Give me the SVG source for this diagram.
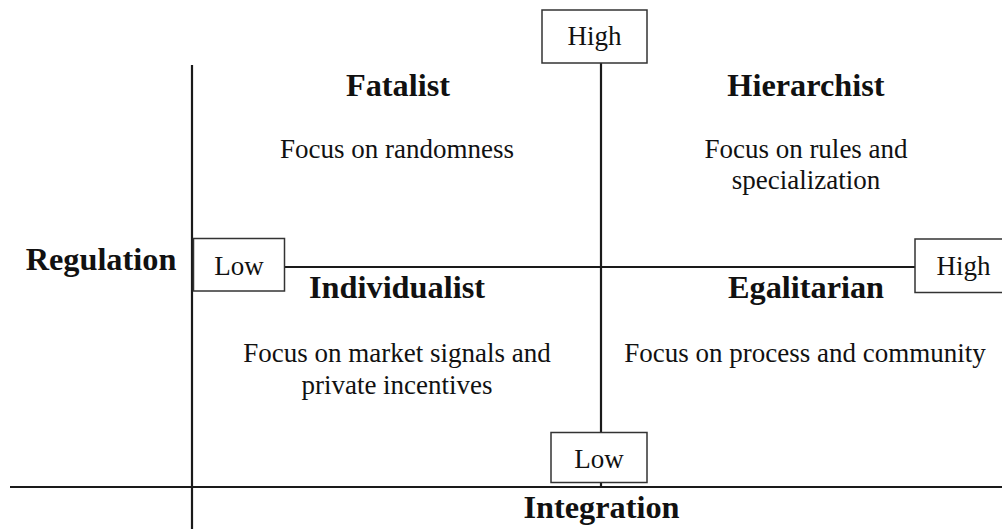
<svg xmlns="http://www.w3.org/2000/svg" width="1002" height="529" viewBox="0 0 1002 529">
  <style>
    .axis { stroke: #1a1a1a; stroke-width: 2.2; fill: none; }
    .box rect { fill: #ffffff; stroke: #333333; stroke-width: 1.5; }
    text { font-family: "Liberation Serif", "Times New Roman", serif; fill: #111111; text-anchor: middle; }
    .title { font-weight: bold; font-size: 32.3px; }
    .body { font-size: 27px; }
    .tick { font-size: 27px; }
  </style>
  <rect width="1002" height="529" fill="#ffffff"/>

  <!-- axes and quadrant dividers -->
  <g id="connectors">
    <line class="axis" x1="192" y1="65" x2="192" y2="529"/>
    <line class="axis" x1="10" y1="487" x2="1002" y2="487"/>
    <line class="axis" x1="601" y1="63" x2="601" y2="432"/>
    <line class="axis" x1="601" y1="483" x2="601" y2="487"/>
    <line class="axis" x1="284" y1="267" x2="915" y2="267"/>
  </g>

  <!-- axis end markers -->
  <g id="integration-high" class="box">
    <rect x="542" y="10" width="105" height="53"/>
    <text class="tick" x="594.5" y="45">High</text>
  </g>
  <g id="integration-low" class="box">
    <rect x="551" y="432.5" width="96" height="50"/>
    <text class="tick" x="599" y="468">Low</text>
  </g>
  <g id="regulation-low" class="box">
    <rect x="193.5" y="238.5" width="91" height="52.5"/>
    <text class="tick" x="239" y="275">Low</text>
  </g>
  <g id="regulation-high" class="box">
    <rect x="915" y="239" width="100" height="53.5"/>
    <text class="tick" x="963.5" y="275">High</text>
  </g>

  <!-- axis titles -->
  <g id="regulation-label">
    <text class="title" x="101" y="270">Regulation</text>
  </g>
  <g id="integration-label">
    <text class="title" x="601.5" y="518">Integration</text>
  </g>

  <!-- quadrants -->
  <g id="fatalist">
    <text class="title" x="398" y="96">Fatalist</text>
    <text class="body" x="397" y="158">Focus on randomness</text>
  </g>
  <g id="hierarchist">
    <text class="title" x="806" y="96">Hierarchist</text>
    <text class="body" x="806" y="158">Focus on rules and</text>
    <text class="body" x="806" y="189">specialization</text>
  </g>
  <g id="individualist">
    <text class="title" x="397" y="298">Individualist</text>
    <text class="body" x="397" y="362">Focus on market signals and</text>
    <text class="body" x="397" y="394">private incentives</text>
  </g>
  <g id="egalitarian">
    <text class="title" x="806" y="298">Egalitarian</text>
    <text class="body" x="805" y="362">Focus on process and community</text>
  </g>
</svg>
